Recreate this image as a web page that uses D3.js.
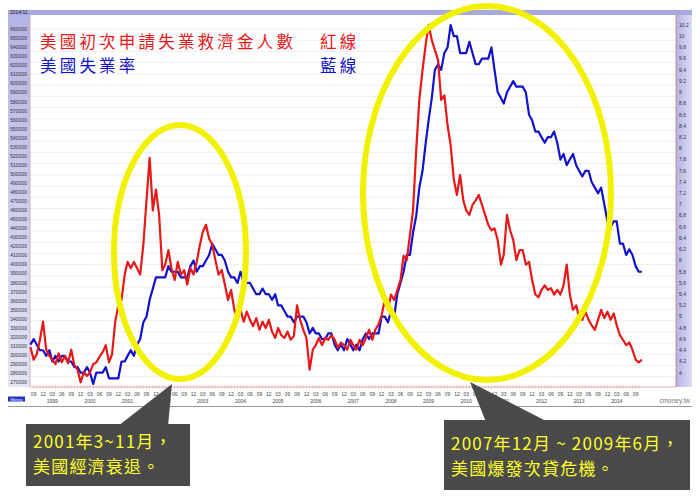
<!DOCTYPE html>
<html><head><meta charset="utf-8">
<script src="https://cdn.jsdelivr.net/npm/d3@7"></script>
<style>body{margin:0;background:#fff;overflow:hidden}</style>
</head><body>
<svg id="c" width="700" height="501"></svg>
<script>
// ---------- DATA ----------
const firstMonth = [1998, 7]; // Aug 1998 (JS month index)
// Initial jobless claims (thousands), monthly, Aug 1998 – Nov 2014
const claims = [
 309,295,301,317,337,
 306,299,295,290,302,292,299,291,306,289,284,270,
 281,277,281,290,292,298,303,311,292,301,337,355,
 361,389,403,396,403,396,389,422,472,518,460,483,
 455,394,400,416,396,383,403,389,394,378,396,389,
 403,422,436,444,429,422,405,389,394,378,361,372,
 350,341,350,337,348,339,332,341,328,337,330,339,
 326,319,330,322,319,326,317,321,355,339,328,319,
 284,306,311,319,311,319,317,322,317,308,314,311,
 306,317,311,306,317,311,319,328,317,328,334,344,
 361,350,367,361,372,383,410,405,433,460,527,582,
 615,643,665,648,637,626,582,587,554,532,494,477,
 499,471,460,455,466,471,477,466,455,444,438,440,
 427,400,411,455,438,427,405,416,416,400,403,383,
 367,364,372,377,372,374,367,372,367,377,400,367,
 350,355,341,339,348,339,333,328,339,350,341,348,
 339,346,333,322,317,311,314,306,295,292,295
];
// Unemployment rate (%), monthly, Aug 1998 – Nov 2014
const unemployment = [
 4.5,4.6,4.5,4.4,4.4,
 4.3,4.4,4.2,4.3,4.2,4.3,4.3,4.2,4.2,4.1,4.1,4.0,
 4.0,4.1,4.0,3.8,4.0,4.0,4.0,4.1,3.9,3.9,3.9,3.9,
 4.2,4.2,4.3,4.4,4.3,4.5,4.6,4.9,5.0,5.3,5.5,5.7,
 5.7,5.7,5.7,5.9,5.8,5.8,5.8,5.7,5.7,5.7,5.9,6.0,
 5.8,5.9,5.9,6.0,6.1,6.3,6.2,6.1,6.1,6.0,5.8,5.7,
 5.7,5.6,5.8,5.6,5.6,5.6,5.5,5.4,5.4,5.5,5.4,5.4,
 5.3,5.4,5.2,5.2,5.1,5.0,5.0,4.9,5.0,5.0,5.0,4.9,
 4.7,4.8,4.7,4.7,4.6,4.6,4.7,4.7,4.5,4.4,4.5,4.4,
 4.6,4.5,4.4,4.5,4.4,4.6,4.7,4.6,4.7,4.7,4.7,5.0,
 5.0,4.9,5.1,5.0,5.4,5.6,5.8,6.1,6.1,6.5,6.8,7.3,
 7.6,8.1,8.5,8.9,9.4,9.5,9.4,9.7,9.8,10.2,10.0,10.0,
 9.7,9.7,9.7,9.9,9.7,9.5,9.5,9.6,9.6,9.6,9.8,9.4,
 9.0,8.9,8.8,9.0,9.1,9.2,9.1,9.1,9.1,9.0,8.6,8.5,
 8.3,8.3,8.2,8.1,8.2,8.2,8.3,8.1,7.8,7.9,7.7,7.8,
 7.9,7.7,7.6,7.5,7.6,7.6,7.4,7.3,7.2,7.3,7.0,6.7,
 6.6,6.7,6.7,6.3,6.3,6.1,6.2,6.1,5.9,5.8,5.8
];
const leftTicks = d3.range(270000, 660001, 10000);
const rightTicks = d3.range(40, 103, 2).map(d => d / 10);
const monthLabels = {2: "03", 5: "06", 8: "09", 11: "12"};
const years = d3.range(1999, 2015);
const stampText = "2014/11";
const legendRed = ["美國初次申請失業救濟金人數", "紅線"];
const legendBlue = ["美國失業率", "藍線"];
const note1 = ["2001年3~11月，", "美國經濟衰退。"];
const note2 = ["2007年12月 ~ 2009年6月，", "美國爆發次貸危機。"];
const sourceText = "cmoney.tw";

// ---------- SETUP ----------
const svg = d3.select("#c");
const P = {l: 30, r: 676, t: 15, b: 387};
const dates = claims.map((_, i) => new Date(firstMonth[0], firstMonth[1] + i, 1));

const x = d3.scaleTime()
  .domain([new Date(1999, 2, 1), new Date(2014, 2, 1)])
  .range([52.3, 616.7]);
const yL = d3.scaleLinear().domain([270000, 660000]).range([382.3, 29.3]);
const yR = d3.scaleLinear().domain([4, 10.2]).range([372.7, 25]);

const defs = svg.append("defs");
const gL = defs.append("linearGradient").attr("id", "gl").attr("x1", 0).attr("y1", 0).attr("x2", 0).attr("y2", 1);
gL.append("stop").attr("offset", 0).attr("stop-color", "#b4b4e6");
gL.append("stop").attr("offset", 1).attr("stop-color", "#e4e4f6");
const gR = defs.append("linearGradient").attr("id", "gr").attr("x1", 0).attr("y1", 0).attr("x2", 1).attr("y2", 0);
gR.append("stop").attr("offset", 0).attr("stop-color", "#b4b4e6");
gR.append("stop").attr("offset", 1).attr("stop-color", "#dcdcf4");

// frame panels
svg.append("rect").attr("x", 8).attr("y", 10).attr("width", 684).attr("height", 5).attr("fill", "#a8a8e0");
svg.append("rect").attr("x", 8).attr("y", 15).attr("width", P.l - 8).attr("height", P.b - 15).attr("fill", "url(#gl)");
svg.append("rect").attr("x", P.r).attr("y", 15).attr("width", 16).attr("height", P.b - 15).attr("fill", "url(#gr)");
svg.append("text").attr("x", 10).attr("y", 14.3).attr("font-family", "Liberation Sans, Arial").attr("font-size", 5)
  .attr("fill", "#223").text(stampText);

// gridlines
svg.append("g").selectAll("line").data(rightTicks).join("line")
  .attr("x1", P.l).attr("x2", P.r).attr("y1", d => yR(d) + 4).attr("y2", d => yR(d) + 4)
  .attr("stroke", "#e2e2e2").attr("stroke-width", 0.6);

// left axis labels
svg.append("g").selectAll("text").data(leftTicks).join("text")
  .attr("x", 27).attr("y", d => yL(d) + 1.8).attr("text-anchor", "end")
  .attr("font-family", "Liberation Sans, Arial").attr("font-size", 5).attr("fill", "#333")
  .text(d => d);
// right axis labels
svg.append("g").selectAll("text").data(rightTicks).join("text")
  .attr("x", 679).attr("y", d => yR(d) + 1.8)
  .attr("font-family", "Liberation Sans, Arial").attr("font-size", 5).attr("fill", "#333")
  .text(d => d3.format("~g")(d));

// plot borders
svg.append("line").attr("x1", P.l).attr("x2", P.l).attr("y1", 15).attr("y2", P.b).attr("stroke", "#d9a0a0").attr("stroke-width", 0.8);
svg.append("line").attr("x1", P.r).attr("x2", P.r).attr("y1", 15).attr("y2", P.b).attr("stroke", "#c87a7a").attr("stroke-width", 0.8);
svg.append("line").attr("x1", P.l).attr("x2", P.r).attr("y1", P.b).attr("y2", P.b).attr("stroke", "#d9a0a0").attr("stroke-width", 0.8);

// x ticks (monthly)
const months = d3.timeMonth.range(new Date(1998, 8, 1), new Date(2014, 9, 2));
svg.append("g").selectAll("line").data(months).join("line")
  .attr("x1", d => x(d)).attr("x2", d => x(d))
  .attr("y1", P.b - 1.5).attr("y2", P.b + 1.5)
  .attr("stroke", "#d08a8a").attr("stroke-width", 0.5);
svg.append("g").selectAll("text").data(months.filter(d => monthLabels[d.getMonth()] !== undefined)).join("text")
  .attr("x", d => x(d)).attr("y", 396).attr("text-anchor", "middle")
  .attr("font-family", "Liberation Sans, Arial").attr("font-size", 5).attr("fill", "#444")
  .text(d => monthLabels[d.getMonth()]);
svg.append("g").selectAll("text").data(years).join("text")
  .attr("x", d => x(new Date(d, 2, 1))).attr("y", 403).attr("text-anchor", "middle")
  .attr("font-family", "Liberation Sans, Arial").attr("font-size", 5).attr("fill", "#444")
  .text(d => d);
svg.append("line").attr("x1", 8).attr("x2", 692).attr("y1", 406.5).attr("y2", 406.5).attr("stroke", "#555").attr("stroke-width", 0.6);
svg.append("rect").attr("x", 8).attr("y", 396.5).attr("width", 17).attr("height", 5).attr("fill", "#2233cc");
svg.append("text").attr("x", 16.5).attr("y", 400.5).attr("text-anchor", "middle").attr("font-family", "Liberation Sans, Arial")
  .attr("font-size", 4).attr("fill", "#fff").text("Money");
svg.append("text").attr("x", 690).attr("y", 403).attr("text-anchor", "end").attr("font-family", "Liberation Sans, Arial")
  .attr("font-size", 6.5).attr("fill", "#777").text(sourceText);

// lines
const lineR = d3.line().x((d, i) => x(dates[i])).y(d => yL(d * 1000));
const lineB = d3.line().x((d, i) => x(dates[i])).y(d => yR(d));
svg.append("path").datum(unemployment).attr("d", lineB).attr("fill", "none")
  .attr("stroke", "#1212cc").attr("stroke-width", 2.2).attr("stroke-linejoin", "round");
svg.append("path").datum(claims).attr("d", lineR).attr("fill", "none")
  .attr("stroke", "#e81818").attr("stroke-width", 2.2).attr("stroke-linejoin", "round");

// legend text
const cjk = "Noto Sans CJK TC, Noto Sans CJK SC, sans-serif";
function legend(tx, xx, yy, col) {
  svg.append("text").attr("x", xx).attr("y", yy).attr("font-family", cjk).attr("font-size", 16.5)
    .attr("letter-spacing", 3.2).attr("fill", col).text(tx);
}
legend(legendRed[0], 40, 48, "#e81818");
legend(legendRed[1], 320, 48, "#e81818");
legend(legendBlue[0], 40, 72, "#1212cc");
legend(legendBlue[1], 320, 72, "#1212cc");

// ellipses
svg.append("ellipse").attr("cx", 180).attr("cy", 252).attr("rx", 66).attr("ry", 127)
  .attr("fill", "none").attr("stroke", "#f2f200").attr("stroke-width", 6);
svg.append("ellipse").attr("cx", 487).attr("cy", 193).attr("rx", 124).attr("ry", 187)
  .attr("fill", "none").attr("stroke", "#f2f200").attr("stroke-width", 6);

// callouts
svg.append("polygon").attr("points", "118,426 168,426 172,384").attr("fill", "#4a4a4a");
svg.append("rect").attr("x", 26).attr("y", 424).attr("width", 164).attr("height", 62).attr("fill", "#4a4a4a");
svg.append("polygon").attr("points", "470,382 486,422 548,422").attr("fill", "#4a4a4a");
svg.append("rect").attr("x", 444).attr("y", 420).attr("width", 246).attr("height", 70).attr("fill", "#4a4a4a");
function note(tx, xx, yy) {
  svg.append("text").attr("x", xx).attr("y", yy).attr("font-family", cjk).attr("font-size", 17)
    .attr("letter-spacing", 1.2).attr("fill", "#ffff2a").text(tx);
}
note(note1[0], 33, 448);
note(note1[1], 33, 473);
note(note2[0], 451, 450);
note(note2[1], 451, 475);
</script>
</body></html>
